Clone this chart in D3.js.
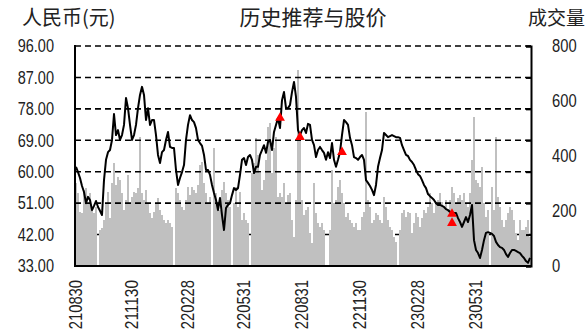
<!DOCTYPE html>
<html lang="zh">
<head>
<meta charset="UTF-8">
<title>历史推荐与股价</title>
<script src="https://d3js.org/d3.v7.min.js"></script>
<style>
  body { margin: 0; background: #fff; }
  svg text { fill: #222; }
  .num { font-family: "Liberation Sans", Arial, sans-serif; font-size: 18px; }
  .cjk { font-family: "Noto Sans CJK SC", sans-serif; }
</style>
</head>
<body>
<svg id="chart" width="587" height="333"></svg>
<script>
// 坐标刻度
const priceTicks = [33, 42, 51, 60, 69, 78, 87, 96];
const volTicks = [0, 200, 400, 600, 800];
const dateLabels = ["210830", "211130", "220228", "220531", "220831", "221130", "230228", "230531"];
const dateIdx = [0, 28, 56, 84, 113, 142, 171, 200];

// 股价（元）
const price = [
  61.4, 59.9, 58.2, 55.9, 54.2, 51.0, 52.8, 51.9, 49.0, 50.2,
  51.6, 49.9, 48.8, 47.6, 57.6, 63.4, 65.6, 66.2, 69.1, 76.5,
  70.5, 71.9, 69.1, 70.5, 73.4, 81.1, 78.2, 73.4, 69.1, 70.5,
  73.4, 78.2, 82.0, 84.3, 82.0, 74.8, 78.2, 73.4, 74.8, 74.8,
  70.5, 64.8, 62.5, 65.6, 66.2, 69.1, 71.4, 67.1, 66.8, 66.8,
  60.5, 56.2, 58.2, 59.9, 61.9, 69.1, 73.4, 76.2, 74.8, 74.2,
  72.5, 69.1, 68.2, 67.4, 64.8, 60.5, 60.5, 59.1, 56.2, 53.9,
  51.9, 49.0, 52.5, 47.6, 43.3, 49.6, 50.5, 51.0, 53.3, 55.3,
  54.8, 55.3, 59.1, 63.4, 63.9, 61.9, 64.2, 64.8, 63.4, 59.6,
  61.4, 61.4, 64.8, 66.2, 67.6, 65.4, 68.5, 69.1, 66.2, 71.4,
  73.4, 75.4, 72.5, 80.5, 82.8, 78.2, 78.2, 79.1, 82.8, 85.7,
  81.4, 71.9, 70.5, 71.9, 72.5, 71.1, 73.7, 73.4, 69.1, 67.6,
  64.2, 66.2, 67.1, 66.2, 65.4, 63.4, 65.6, 63.9, 68.2, 63.4,
  61.4, 63.4, 65.6, 70.5, 74.8, 74.2, 73.4, 69.7, 67.6, 64.2,
  63.9, 63.4, 64.2, 64.8, 63.4, 57.6, 56.8, 55.9, 54.8, 53.3,
  56.2, 61.4, 63.9, 66.2, 71.1, 70.5, 69.9, 70.2, 70.5, 70.2,
  69.9, 69.9, 69.7, 67.6, 66.2, 64.8, 64.5, 63.4, 62.8, 61.9,
  60.5, 59.3, 58.8, 57.6, 56.2, 55.3, 53.6, 53.0, 52.5, 51.9,
  51.0, 50.5, 50.5, 50.2, 49.9, 49.3, 49.0, 48.5, 47.9, 48.2,
  48.2, 46.7, 45.6, 44.2, 45.6, 47.0, 45.6, 47.6, 50.5, 40.4,
  37.6, 36.7, 35.3, 37.6, 40.4, 42.5, 42.7, 42.5, 42.2, 41.6,
  39.9, 39.0, 38.4, 38.2, 37.6, 36.4, 35.6, 36.7, 37.6, 37.6,
  37.3, 37.0, 36.7, 35.9, 35.3, 34.4, 33.9, 35.3
];

// 成交量
const volume = [
  301, 264, 198, 192, 276, 282, 228, 264, 216, 192,
  216, 0, 131, 137, 167, 228, 270, 173, 301, 373,
  295, 325, 313, 264, 204, 240, 331, 228, 252, 270,
  264, 282, 470, 264, 240, 276, 228, 192, 173, 198,
  228, 246, 204, 185, 167, 155, 167, 155, 143, 0,
  282, 264, 240, 216, 204, 240, 288, 258, 288, 276,
  264, 295, 367, 379, 301, 264, 228, 252, 0, 428,
  264, 228, 204, 276, 307, 264, 240, 216, 0, 228,
  288, 216, 270, 167, 192, 167, 155, 0, 337, 373,
  464, 404, 337, 276, 313, 385, 507, 519, 337, 428,
  470, 252, 264, 252, 301, 228, 258, 264, 167, 107,
  240, 713, 464, 240, 185, 204, 216, 119, 83, 301,
  192, 155, 143, 155, 131, 0, 0, 131, 349, 228,
  240, 288, 313, 264, 228, 179, 192, 167, 155, 143,
  155, 131, 131, 179, 198, 561, 240, 216, 155, 167,
  192, 185, 167, 155, 252, 216, 167, 143, 131, 107,
  89, 0, 131, 192, 204, 179, 198, 192, 119, 155,
  192, 179, 143, 173, 204, 192, 216, 264, 228, 192,
  228, 240, 264, 234, 216, 240, 204, 240, 288, 264,
  228, 246, 258, 240, 264, 228, 216, 264, 385, 543,
  313, 301, 288, 361, 228, 179, 204, 0, 288, 204,
  470, 252, 216, 167, 143, 167, 192, 216, 204, 167,
  119, 95, 167, 131, 131, 143, 167, 107
];

// 推荐点
const recIdx = [102, 112, 133, 188, 188];
const recPrice = [75.4, 69.9, 65.6, 47.9, 45.3];

const mLeft = 75, mRight = 531, mTop = 46, mBottom = 266;
const svg = d3.select("#chart");

const x = d3.scaleBand().domain(d3.range(price.length)).range([mLeft, mRight]).padding(0);
const yP = d3.scaleLinear().domain([33, 96]).range([mBottom, mTop]);
const yV = d3.scaleLinear().domain([0, 800]).range([mBottom, mTop]);
const cx = i => x(i) + x.bandwidth() / 2;

// 窄体数字：按字符压缩宽度
const narrow = s => String(s).split("").reduce((w, c) => w + (c === "." ? 3.5 : 8.2), 0);
function squeeze(sel) {
  sel.attr("class", "num")
    .attr("textLength", function () { return narrow(this.textContent); })
    .attr("lengthAdjust", "spacingAndGlyphs");
}

// 最下面一条虚线在柱子后面
svg.append("line")
  .attr("x1", mLeft).attr("x2", mRight)
  .attr("y1", yP(42)).attr("y2", yP(42))
  .attr("stroke", "#000").attr("stroke-width", 1.6)
  .attr("stroke-dasharray", "6,4");

// 成交量柱
svg.append("g").selectAll("rect")
  .data(volume)
  .join("rect")
  .attr("x", (d, i) => x(i))
  .attr("width", x.bandwidth())
  .attr("y", d => yV(d))
  .attr("height", d => mBottom - yV(d))
  .attr("fill", "#c0c0c0")
  .attr("shape-rendering", "crispEdges");

// 其余虚线网格
svg.append("g").selectAll("line")
  .data(priceTicks.filter(d => d > 42))
  .join("line")
  .attr("x1", mLeft).attr("x2", mRight)
  .attr("y1", d => yP(d)).attr("y2", d => yP(d))
  .attr("stroke", "#000").attr("stroke-width", 1.6)
  .attr("stroke-dasharray", "6,4");

// 股价线
svg.append("path")
  .datum(price)
  .attr("fill", "none")
  .attr("stroke", "#000")
  .attr("stroke-width", 2)
  .attr("stroke-linejoin", "round")
  .attr("d", d3.line().x((d, i) => cx(i)).y(d => yP(d)));

// 推荐三角形
svg.append("g").selectAll("path")
  .data(recIdx)
  .join("path")
  .attr("d", d3.symbol(d3.symbolTriangle, 42))
  .attr("transform", (d, i) => `translate(${cx(d)},${yP(recPrice[i])})`)
  .attr("fill", "#ff0000");

// 左轴线、底轴线
svg.append("line")
  .attr("x1", mLeft).attr("x2", mLeft).attr("y1", mTop - 1).attr("y2", mBottom)
  .attr("stroke", "#000").attr("stroke-width", 2);
svg.append("line")
  .attr("x1", mLeft - 1).attr("x2", mRight + 1).attr("y1", mBottom).attr("y2", mBottom)
  .attr("stroke", "#000").attr("stroke-width", 2);

// 右轴（内侧刻度）
const rAxis = svg.append("g")
  .attr("transform", `translate(${mRight},0)`)
  .call(d3.axisRight(yP).tickValues(priceTicks).tickSize(-5).tickSizeOuter(-5).tickFormat(""));
rAxis.selectAll("line, path").attr("stroke", "#000").attr("stroke-width", 2);

// 左轴标签
const lAxis = svg.append("g")
  .attr("transform", `translate(54,0)`)
  .call(d3.axisLeft(yP).tickValues(priceTicks).tickSize(0).tickPadding(0).tickFormat(d3.format(".2f")));
lAxis.select(".domain").remove();
lAxis.attr("font-family", null).attr("font-size", null);
lAxis.selectAll("text").call(squeeze);

// 右轴标签
const vAxis = svg.append("g")
  .attr("transform", `translate(552,0)`)
  .call(d3.axisRight(yV).tickValues(volTicks).tickSize(0).tickPadding(0));
vAxis.select(".domain").remove();
vAxis.attr("font-family", null).attr("font-size", null);
vAxis.selectAll("text").call(squeeze);

// 日期标签
const xAxis = svg.append("g")
  .attr("transform", `translate(0,${mBottom})`)
  .call(d3.axisBottom(x).tickValues(dateIdx).tickSize(0).tickFormat((d, i) => dateLabels[i]));
xAxis.select(".domain").remove();
xAxis.attr("font-family", null).attr("font-size", null);
xAxis.selectAll("text")
  .attr("transform", "rotate(-90)")
  .attr("x", -14).attr("y", 0).attr("dy", "0.35em")
  .style("text-anchor", "end")
  .call(squeeze);

// 标题
svg.append("text").attr("class", "cjk").attr("x", 22).attr("y", 25)
  .attr("font-size", 20).text("人民币(元)");
svg.append("text").attr("class", "cjk").attr("x", 313).attr("y", 25)
  .attr("font-size", 21).attr("text-anchor", "middle").text("历史推荐与股价");
svg.append("text").attr("class", "cjk").attr("x", 528).attr("y", 25)
  .attr("font-size", 19).text("成交量");
</script>
</body>
</html>
